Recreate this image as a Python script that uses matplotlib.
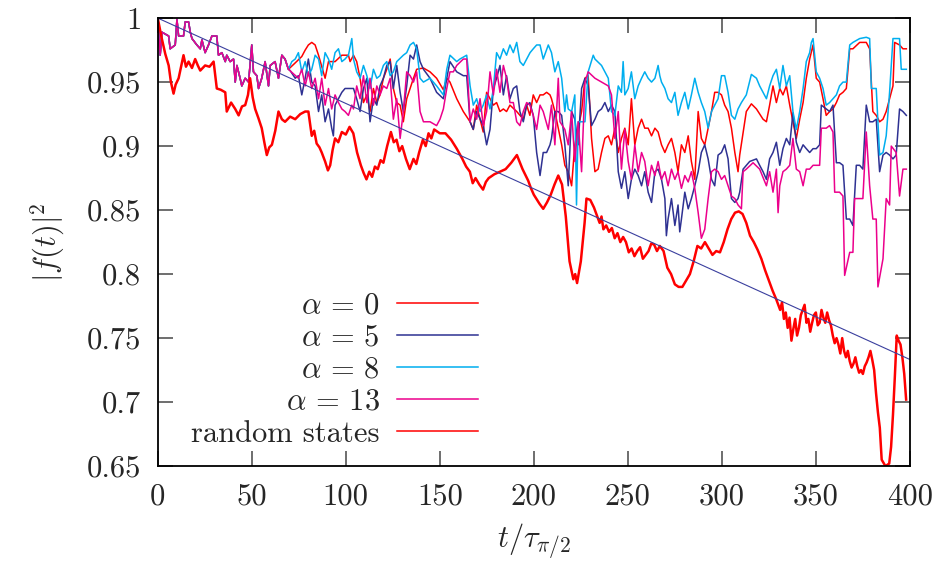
import numpy as np
import matplotlib
matplotlib.use('Agg')
import matplotlib.pyplot as plt

plt.rcParams['font.family'] = 'cmr10'
plt.rcParams['mathtext.fontset'] = 'cm'
plt.rcParams['axes.unicode_minus'] = False
plt.rcParams['axes.formatter.use_mathtext'] = True
plt.rcParams['text.color'] = '#262626'
plt.rcParams['xtick.labelcolor'] = '#262626'
plt.rcParams['ytick.labelcolor'] = '#262626'
plt.rcParams['axes.labelcolor'] = '#262626'

# (t, |f|^2)

# start shared by all alpha curves
common = [(0, 1.0), (1.3, 0.971), (2.2, 0.989), (5.8, 0.986), (6.6, 0.976), (9.3, 0.979),
          (10.2, 0.999), (11.1, 0.986), (13.7, 0.986), (14.6, 0.997), (16.4, 0.997),
          (17.3, 0.989), (18.2, 0.984), (20.8, 0.979), (22.6, 0.976), (23.5, 0.983),
          (25.2, 0.973), (27.0, 0.979), (28.8, 0.986), (31.4, 0.986), (32.3, 0.971),
          (34.1, 0.973), (35.9, 0.966), (36.7, 0.971), (38.5, 0.966), (40.3, 0.968),
          (41.2, 0.950), (42.1, 0.963), (43.8, 0.953), (44.7, 0.947), (46.5, 0.953),
          (48.3, 0.950), (50.0, 0.979), (50.9, 0.958), (52.7, 0.955), (53.6, 0.945),
          (55.3, 0.953), (57.1, 0.966), (58.9, 0.947), (59.8, 0.963), (62.4, 0.966),
          (64.2, 0.953), (66.0, 0.971), (67.7, 0.968), (69.5, 0.960)]

alpha0 = [(73.1, 0.965), (76.6, 0.970), (78.4, 0.975), (80.1, 0.979), (81.9, 0.981), (83.7, 0.979),
          (85.5, 0.971), (89.0, 0.953), (90.8, 0.966), (94.3, 0.966), (97.9, 0.971), (101.4, 0.971),
          (102.3, 0.966), (104.1, 0.971), (105.8, 0.966), (107.6, 0.953), (109.4, 0.934),
          (111.2, 0.940), (112.9, 0.927), (114.7, 0.945), (116.5, 0.934), (118.2, 0.940),
          (120.0, 0.953), (121.8, 0.960), (123.6, 0.968), (125.3, 0.945), (127.1, 0.934),
          (128.9, 0.932), (130.6, 0.919), (132.4, 0.937), (134.2, 0.945), (136.0, 0.953),
          (137.7, 0.960), (141.3, 0.961), (144.8, 0.958), (148.3, 0.953), (151.9, 0.944),
          (153.7, 0.953), (155.4, 0.950), (159.0, 0.937), (162.5, 0.927), (164.3, 0.923),
          (166.1, 0.919), (167.8, 0.913), (169.6, 0.932), (171.4, 0.921), (173.1, 0.911),
          (174.9, 0.942), (176.7, 0.937), (178.5, 0.932), (180.2, 0.934), (182.0, 0.927),
          (183.8, 0.929), (185.5, 0.927), (187.3, 0.932), (190.9, 0.927), (194.4, 0.921),
          (196.2, 0.932), (197.9, 0.924), (199.7, 0.940), (201.5, 0.934), (203.3, 0.940),
          (205.0, 0.940), (206.8, 0.942), (208.6, 0.940), (209.4, 0.937), (211.2, 0.927),
          (213.0, 0.914), (214.8, 0.901), (216.5, 0.885), (218.3, 0.880), (220.1, 0.869),
          (221.8, 0.901), (223.6, 0.914), (225.4, 0.927), (227.2, 0.953), (228.9, 0.955),
          (230.7, 0.906), (232.5, 0.880), (234.2, 0.882), (236.0, 0.895), (237.8, 0.906),
          (239.6, 0.908), (241.3, 0.901), (243.1, 0.914), (244.9, 0.895), (246.6, 0.906),
          (248.4, 0.914), (250.2, 0.901), (251.9, 0.937), (253.7, 0.901), (255.5, 0.914),
          (257.3, 0.921), (259.0, 0.914), (260.8, 0.914), (262.6, 0.908), (264.4, 0.914),
          (266.1, 0.911), (267.9, 0.901), (269.7, 0.895), (271.4, 0.901), (273.2, 0.906),
          (275.0, 0.895), (276.7, 0.880), (278.5, 0.901), (280.3, 0.895), (282.1, 0.908),
          (283.8, 0.888), (285.6, 0.874), (287.4, 0.927), (289.1, 0.906), (290.9, 0.901),
          (292.7, 0.914), (294.5, 0.927), (296.2, 0.942), (298.0, 0.942), (299.8, 0.940),
          (301.5, 0.932), (303.3, 0.927), (305.1, 0.914), (306.9, 0.895), (308.6, 0.880),
          (309.5, 0.893), (313.0, 0.927), (315.7, 0.933), (318.4, 0.929), (321.9, 0.921),
          (323.7, 0.919), (325.4, 0.932), (327.2, 0.947), (329.0, 0.934), (330.8, 0.945),
          (332.5, 0.940), (334.3, 0.947), (336.1, 0.932), (337.8, 0.919), (339.6, 0.906),
          (341.4, 0.921), (343.2, 0.934), (344.9, 0.953), (346.7, 0.968), (348.5, 0.979),
          (350.2, 0.953), (352.0, 0.950), (353.8, 0.937), (355.5, 0.924), (357.3, 0.927),
          (359.1, 0.929), (360.9, 0.934), (362.6, 0.940), (364.4, 0.942), (366.2, 0.945),
          (368.0, 0.976), (369.7, 0.976), (373.3, 0.981), (376.8, 0.981), (378.6, 0.976),
          (380.3, 0.927), (382.1, 0.924), (383.9, 0.919), (385.7, 0.921), (387.4, 0.927),
          (389.2, 0.937), (391.0, 0.947), (391.9, 0.981), (394.5, 0.979), (396.3, 0.976),
          (398.1, 0.976)]

alpha5 = [(70.4, 0.959), (73.1, 0.953), (74.8, 0.955), (76.6, 0.940), (78.4, 0.953), (80.1, 0.968),
          (81.9, 0.950), (83.7, 0.947), (85.5, 0.927), (87.2, 0.940), (89.0, 0.919), (90.8, 0.929),
          (92.5, 0.914), (93.4, 0.908), (94.3, 0.932), (96.1, 0.937), (97.9, 0.942), (99.6, 0.945),
          (102.3, 0.945), (104.1, 0.945), (105.8, 0.937), (107.6, 0.927), (109.4, 0.945),
          (111.2, 0.953), (112.9, 0.919), (114.7, 0.937), (116.5, 0.932), (118.2, 0.947),
          (120.0, 0.953), (121.8, 0.963), (123.6, 0.966), (125.3, 0.945), (127.1, 0.963),
          (128.9, 0.942), (130.6, 0.927), (132.4, 0.947), (134.2, 0.971), (136.0, 0.968),
          (137.7, 0.979), (139.5, 0.966), (141.3, 0.960), (144.8, 0.953), (148.3, 0.942),
          (151.9, 0.937), (153.7, 0.953), (155.4, 0.966), (159.0, 0.958), (162.5, 0.955),
          (164.3, 0.955), (166.1, 0.919), (167.8, 0.913), (169.6, 0.927), (173.1, 0.916),
          (174.9, 0.901), (176.7, 0.913), (178.5, 0.945), (180.2, 0.953), (182.0, 0.963),
          (183.8, 0.940), (185.5, 0.955), (187.3, 0.937), (189.1, 0.945), (190.9, 0.947),
          (192.6, 0.927), (194.4, 0.919), (196.2, 0.932), (197.9, 0.934), (199.7, 0.924),
          (201.5, 0.895), (203.3, 0.877), (205.0, 0.895), (206.8, 0.895), (208.6, 0.901),
          (209.4, 0.906), (211.2, 0.927), (213.0, 0.927), (214.8, 0.924), (216.5, 0.901),
          (218.3, 0.869), (220.1, 0.927), (221.8, 0.921), (223.6, 0.901), (225.4, 0.945),
          (227.2, 0.953), (228.9, 0.947), (230.7, 0.916), (232.5, 0.921), (234.2, 0.927),
          (236.0, 0.929), (237.8, 0.934), (239.6, 0.927), (241.3, 0.932), (243.1, 0.927),
          (244.9, 0.880), (246.6, 0.867), (248.4, 0.880), (250.2, 0.859), (251.9, 0.874),
          (253.7, 0.882), (255.5, 0.877), (257.3, 0.869), (259.0, 0.880), (260.8, 0.864),
          (262.6, 0.856), (264.4, 0.880), (266.1, 0.882), (267.9, 0.874), (269.7, 0.859),
          (270.5, 0.830), (271.4, 0.843), (273.2, 0.859), (275.0, 0.838), (276.7, 0.854),
          (277.6, 0.833), (278.5, 0.843), (280.3, 0.864), (282.1, 0.851), (283.8, 0.859),
          (285.6, 0.869), (287.4, 0.880), (289.1, 0.895), (290.9, 0.901), (292.7, 0.890),
          (294.5, 0.874), (296.2, 0.869), (298.0, 0.893), (299.8, 0.895), (301.5, 0.901),
          (303.3, 0.890), (305.1, 0.859), (306.9, 0.856), (308.6, 0.859), (309.5, 0.864),
          (311.3, 0.882), (314.8, 0.888), (318.4, 0.890), (320.1, 0.885), (321.9, 0.880),
          (323.7, 0.874), (325.4, 0.890), (327.2, 0.895), (329.0, 0.903), (330.8, 0.885),
          (332.5, 0.898), (334.3, 0.906), (336.1, 0.901), (337.8, 0.926), (339.6, 0.903),
          (341.4, 0.895), (343.2, 0.901), (344.9, 0.898), (346.7, 0.895), (348.5, 0.898),
          (350.2, 0.898), (352.0, 0.901), (352.9, 0.932), (355.5, 0.929), (357.3, 0.927),
          (359.1, 0.932), (360.9, 0.887), (362.6, 0.887), (364.4, 0.885), (366.2, 0.843),
          (368.0, 0.843), (369.7, 0.838), (371.5, 0.885), (373.3, 0.885), (375.0, 0.882),
          (376.8, 0.932), (378.6, 0.919), (380.3, 0.919), (382.1, 0.921), (383.9, 0.880),
          (385.7, 0.893), (387.4, 0.895), (389.2, 0.893), (391.0, 0.890), (392.7, 0.893),
          (394.5, 0.929), (396.3, 0.927), (398.1, 0.924)]

alpha8 = [(71.3, 0.966), (73.1, 0.968), (74.8, 0.973), (76.6, 0.958), (78.4, 0.966), (80.1, 0.955),
          (81.9, 0.960), (83.7, 0.971), (85.5, 0.968), (87.2, 0.955), (89.0, 0.973), (90.8, 0.968),
          (92.5, 0.960), (94.3, 0.973), (96.1, 0.976), (97.9, 0.966), (99.6, 0.968), (101.4, 0.971),
          (103.2, 0.984), (104.1, 0.968), (105.8, 0.958), (107.6, 0.953), (109.4, 0.963),
          (111.2, 0.955), (112.9, 0.945), (114.7, 0.960), (116.5, 0.953), (118.2, 0.955),
          (120.0, 0.963), (121.8, 0.966), (123.6, 0.955), (125.3, 0.958), (127.1, 0.966),
          (130.6, 0.971), (132.4, 0.973), (134.2, 0.979), (136.0, 0.981), (137.7, 0.976),
          (139.5, 0.953), (141.3, 0.950), (144.8, 0.953), (148.3, 0.947), (151.9, 0.940),
          (153.7, 0.960), (155.4, 0.971), (159.0, 0.966), (160.7, 0.968), (164.3, 0.971),
          (166.1, 0.947), (167.8, 0.932), (169.6, 0.937), (171.4, 0.927), (173.1, 0.932),
          (174.9, 0.940), (176.7, 0.929), (178.5, 0.945), (180.2, 0.973), (182.0, 0.968),
          (183.8, 0.976), (185.5, 0.971), (187.3, 0.979), (189.1, 0.973), (190.9, 0.981),
          (192.6, 0.966), (194.4, 0.963), (196.2, 0.968), (198.0, 0.973), (199.7, 0.976),
          (201.5, 0.979), (203.3, 0.979), (205.0, 0.968), (207.7, 0.979), (209.4, 0.973),
          (211.2, 0.958), (213.0, 0.966), (214.8, 0.953), (216.5, 0.927), (217.4, 0.940),
          (218.3, 0.929), (220.1, 0.927), (221.8, 0.940), (222.7, 0.854), (223.6, 0.919),
          (227.2, 0.919), (228.9, 0.958), (231.6, 0.971), (232.5, 0.968), (236.0, 0.963),
          (237.8, 0.958), (239.6, 0.953), (241.3, 0.927), (243.1, 0.924), (244.9, 0.947),
          (246.6, 0.942), (247.5, 0.966), (248.4, 0.940), (250.2, 0.945), (251.9, 0.958),
          (253.7, 0.937), (255.5, 0.947), (257.3, 0.953), (259.0, 0.958), (260.8, 0.953),
          (262.6, 0.950), (264.4, 0.953), (266.1, 0.963), (267.0, 0.955), (267.9, 0.950),
          (269.7, 0.945), (271.4, 0.937), (273.2, 0.934), (275.0, 0.942), (276.7, 0.924),
          (278.5, 0.934), (280.3, 0.942), (282.1, 0.929), (283.8, 0.940), (285.6, 0.953),
          (287.4, 0.942), (289.1, 0.934), (290.9, 0.927), (292.7, 0.914), (294.5, 0.927),
          (296.2, 0.932), (298.0, 0.937), (299.8, 0.955), (301.5, 0.955), (303.3, 0.942),
          (305.1, 0.924), (306.9, 0.921), (308.6, 0.929), (310.4, 0.934), (313.0, 0.940),
          (315.7, 0.956), (318.4, 0.953), (320.1, 0.947), (321.9, 0.942), (323.7, 0.937),
          (325.4, 0.947), (327.2, 0.955), (329.0, 0.960), (330.8, 0.945), (332.5, 0.963),
          (334.3, 0.947), (336.1, 0.955), (337.8, 0.927), (339.6, 0.913), (341.4, 0.927),
          (343.2, 0.945), (344.9, 0.966), (346.7, 0.973), (347.6, 0.981), (348.5, 0.984),
          (350.2, 0.958), (352.0, 0.953), (353.8, 0.945), (355.5, 0.932), (357.3, 0.934),
          (359.1, 0.937), (360.9, 0.940), (362.6, 0.947), (364.4, 0.950), (366.2, 0.950),
          (368.0, 0.979), (369.7, 0.981), (373.3, 0.984), (376.8, 0.985), (378.6, 0.984),
          (379.5, 0.945), (382.1, 0.945), (383.9, 0.893), (385.7, 0.895), (387.4, 0.908),
          (389.2, 0.942), (391.0, 0.984), (392.7, 0.984), (394.5, 0.984), (395.4, 0.960),
          (398.1, 0.960)]

alpha13 = [(74.8, 0.953), (76.6, 0.960), (78.4, 0.947), (80.1, 0.958), (81.9, 0.945), (83.7, 0.953),
           (85.5, 0.937), (87.2, 0.953), (89.0, 0.932), (90.8, 0.945), (92.5, 0.929), (94.3, 0.940),
           (96.1, 0.934), (97.9, 0.929), (99.6, 0.927), (101.4, 0.924), (103.2, 0.932),
           (104.1, 0.929), (105.8, 0.947), (107.6, 0.937), (109.4, 0.955), (111.2, 0.934),
           (112.9, 0.953), (114.7, 0.932), (116.5, 0.947), (118.2, 0.940), (120.0, 0.947),
           (121.8, 0.945), (123.6, 0.953), (125.3, 0.921), (127.1, 0.937), (128.9, 0.906),
           (130.6, 0.927), (132.4, 0.958), (134.2, 0.955), (136.0, 0.950), (137.7, 0.958),
           (139.5, 0.927), (141.3, 0.919), (144.8, 0.919), (148.3, 0.916), (150.1, 0.921),
           (151.9, 0.929), (153.7, 0.945), (155.4, 0.958), (157.2, 0.958), (159.0, 0.963),
           (162.5, 0.968), (164.3, 0.968), (166.1, 0.919), (167.8, 0.929), (169.6, 0.921),
           (171.4, 0.937), (173.1, 0.916), (174.9, 0.927), (176.7, 0.958), (178.5, 0.940),
           (180.2, 0.960), (182.0, 0.942), (183.8, 0.963), (185.5, 0.953), (187.3, 0.934),
           (189.1, 0.934), (190.9, 0.919), (192.6, 0.916), (194.4, 0.927), (196.2, 0.934),
           (197.9, 0.932), (199.7, 0.924), (201.5, 0.913), (203.3, 0.932), (205.0, 0.927),
           (207.7, 0.913), (209.4, 0.932), (211.2, 0.901), (213.0, 0.953), (213.9, 0.919),
           (216.5, 0.913), (218.3, 0.901), (220.1, 0.927), (221.8, 0.888), (223.6, 0.919),
           (225.4, 0.880), (227.2, 0.950), (228.9, 0.958), (232.5, 0.953), (236.0, 0.950),
           (239.6, 0.947), (241.3, 0.940), (243.1, 0.906), (244.9, 0.927), (246.6, 0.882),
           (248.4, 0.913), (250.2, 0.888), (251.9, 0.874), (253.7, 0.901), (255.5, 0.880),
           (257.3, 0.895), (259.0, 0.888), (260.8, 0.869), (262.6, 0.885), (264.4, 0.877),
           (266.1, 0.888), (267.9, 0.874), (269.7, 0.880), (271.4, 0.869), (273.2, 0.882),
           (275.0, 0.874), (276.7, 0.880), (278.5, 0.867), (280.3, 0.877), (282.1, 0.872),
           (283.8, 0.880), (285.6, 0.867), (287.4, 0.848), (289.1, 0.828), (290.9, 0.835),
           (292.7, 0.859), (294.5, 0.880), (296.2, 0.882), (298.0, 0.880), (299.8, 0.874),
           (301.5, 0.877), (303.3, 0.869), (305.1, 0.861), (306.9, 0.859), (308.6, 0.854),
           (310.4, 0.851), (311.3, 0.880), (313.0, 0.882), (316.6, 0.887), (320.1, 0.882),
           (323.7, 0.869), (325.4, 0.880), (327.2, 0.864), (329.0, 0.882), (329.9, 0.848),
           (330.8, 0.869), (332.5, 0.880), (334.3, 0.882), (336.1, 0.885), (337.8, 0.906),
           (339.6, 0.882), (341.4, 0.880), (343.2, 0.869), (344.9, 0.882), (346.7, 0.882),
           (348.5, 0.885), (350.2, 0.885), (352.0, 0.885), (352.9, 0.914), (355.5, 0.914),
           (357.3, 0.916), (359.1, 0.911), (360.0, 0.864), (362.6, 0.864), (364.4, 0.861),
           (365.3, 0.799), (368.0, 0.817), (369.7, 0.817), (370.6, 0.859), (373.3, 0.859),
           (375.0, 0.859), (376.8, 0.911), (378.6, 0.869), (380.3, 0.843), (382.1, 0.843),
           (383.0, 0.790), (385.7, 0.812), (387.4, 0.859), (389.2, 0.854), (390.1, 0.900),
           (392.7, 0.895), (394.5, 0.861), (396.3, 0.882), (398.1, 0.882)]

random_states = [(0, 1.0), (2, 0.985), (4, 0.972), (5.8, 0.963), (7, 0.950), (8.4, 0.941),
                 (9.5, 0.948), (11.1, 0.953), (12.4, 0.962), (13.7, 0.971), (15.0, 0.962),
                 (16.4, 0.966), (18.2, 0.961), (19.9, 0.968), (21.3, 0.963), (22.6, 0.959),
                 (25.2, 0.963), (27.5, 0.962), (29.7, 0.966), (31.4, 0.945), (33.5, 0.944),
                 (35.9, 0.942), (36.7, 0.927), (39.0, 0.934), (41.2, 0.929), (43.0, 0.924),
                 (44.8, 0.931), (46.5, 0.932), (48.0, 0.940), (49.1, 0.953), (50.5, 0.938),
                 (51.8, 0.929), (53.5, 0.922), (55.3, 0.914), (56.8, 0.902), (58.0, 0.893),
                 (59.3, 0.899), (60.7, 0.901), (62.5, 0.912), (64.2, 0.927), (66.0, 0.921),
                 (67.7, 0.919), (70.4, 0.923), (73.1, 0.921), (75.8, 0.925), (78.4, 0.927),
                 (80.1, 0.927), (81.9, 0.908), (83.2, 0.912), (84.5, 0.902), (86.0, 0.899),
                 (87.2, 0.895), (89.0, 0.888), (90.5, 0.881), (91.7, 0.885), (93.0, 0.897),
                 (94.3, 0.906), (96.0, 0.903), (97.9, 0.911), (100, 0.909), (102, 0.915),
                 (104, 0.910), (106, 0.895), (108, 0.885), (109.5, 0.879), (111, 0.874),
                 (112.5, 0.880), (114, 0.876), (115.5, 0.884), (117, 0.882), (118.5, 0.889),
                 (120, 0.887), (122, 0.900), (124, 0.911), (125.5, 0.903), (127, 0.905),
                 (128.5, 0.896), (130, 0.900), (132, 0.890), (134, 0.882), (136, 0.890),
                 (137.5, 0.886), (139, 0.895), (141, 0.905), (142.5, 0.900), (144, 0.910),
                 (145.5, 0.906), (147, 0.913), (150, 0.910), (153, 0.910), (156, 0.905),
                 (159, 0.898), (162, 0.890), (164, 0.884), (166, 0.880), (167.5, 0.871),
                 (169, 0.875), (171, 0.870), (173, 0.866), (174.5, 0.872), (176, 0.875),
                 (179, 0.878), (182, 0.880), (185, 0.882), (188, 0.887), (191, 0.893),
                 (194, 0.882), (197, 0.873), (198.5, 0.867), (200, 0.862), (203, 0.855),
                 (205, 0.851), (207, 0.856), (209, 0.862), (211, 0.870), (213, 0.877),
                 (215, 0.870), (217, 0.845), (219, 0.810), (221, 0.796), (222, 0.800),
                 (223, 0.793), (225, 0.810), (227, 0.840), (228, 0.859), (230, 0.858),
                 (232, 0.852), (233.5, 0.846), (235, 0.840), (236, 0.845), (237, 0.835),
                 (238.5, 0.838), (240, 0.833), (241.5, 0.836), (243, 0.828), (244.5, 0.832),
                 (246, 0.825), (247.5, 0.829), (249, 0.825), (250.5, 0.817), (252, 0.820),
                 (253.5, 0.814), (255, 0.818), (256.5, 0.821), (258, 0.812), (259.5, 0.815),
                 (261, 0.818), (262.5, 0.824), (264, 0.823), (265.5, 0.818), (267, 0.822),
                 (269, 0.818), (271, 0.805), (273, 0.800), (275, 0.792), (277, 0.790),
                 (279, 0.790), (281, 0.795), (283, 0.800), (285, 0.810), (287, 0.822),
                 (289, 0.820), (291, 0.825), (293, 0.820), (295, 0.815), (297, 0.818),
                 (299, 0.817), (301, 0.825), (303, 0.835), (305, 0.843), (307, 0.848),
                 (309, 0.849), (311, 0.847), (313, 0.840), (315, 0.830), (317, 0.825),
                 (319, 0.819), (321, 0.812), (323, 0.803), (325, 0.795), (327, 0.787),
                 (329, 0.780), (331, 0.772), (332, 0.778), (333, 0.765), (334, 0.770),
                 (335, 0.758), (336, 0.766), (337, 0.748), (338, 0.757), (339, 0.765),
                 (340, 0.752), (341, 0.758), (342, 0.768), (343, 0.772), (344, 0.776),
                 (345, 0.762), (346, 0.765), (347, 0.755), (348, 0.762), (349, 0.768),
                 (350, 0.770), (351, 0.760), (352, 0.762), (353, 0.772), (354, 0.766),
                 (355, 0.762), (356, 0.770), (357, 0.764), (358, 0.760), (359, 0.752),
                 (360, 0.746), (361, 0.750), (362, 0.745), (363, 0.738), (364, 0.750),
                 (365, 0.740), (366, 0.735), (367, 0.740), (368, 0.732), (369, 0.727),
                 (370, 0.730), (371, 0.735), (372, 0.728), (373, 0.723), (374, 0.725),
                 (375, 0.722), (376, 0.728), (377, 0.731), (378, 0.735), (379, 0.740),
                 (380, 0.733), (381, 0.725), (382, 0.707), (383, 0.692), (384, 0.680),
                 (385, 0.655), (387, 0.650), (389, 0.652), (390, 0.665), (391, 0.690),
                 (392, 0.720), (393, 0.752), (394, 0.748), (395, 0.745), (396, 0.735),
                 (397, 0.722), (398, 0.702)]

# straight decay line (not in key)
decay_line = [(0, 1.0), (400, 0.7333)]

yticks = [0.65, 0.7, 0.75, 0.8, 0.85, 0.9, 0.95, 1]
ytick_labels = ['0.65', '0.7', '0.75', '0.8', '0.85', '0.9', '0.95', '1']
xticks = [0, 50, 100, 150, 200, 250, 300, 350, 400]


def xy(pts):
    a = np.array(pts, dtype=float)
    return a[:, 0], a[:, 1]


fig = plt.figure(figsize=(9.39, 5.65), dpi=100)
ax = fig.add_axes([0.168, 0.175, 0.801, 0.793])

series = [(common + alpha0, '#ff0000', r'$\alpha\,=\,0$'),
          (common + alpha5, '#2e3192', r'$\alpha\,=\,5$'),
          (common + alpha8, '#00aeef', r'$\alpha\,=\,8$'),
          (common + alpha13, '#ec008c', r'$\alpha\,=\,13$')]
for pts, c, lab in series:
    t, f = xy(pts)
    ax.plot(t, f, color=c, lw=1.1, label=lab)

t, f = xy(random_states)
ax.plot(t, f, color='#ff0000', lw=1.8, label='random states')
t, f = xy(decay_line)
ax.plot(t, f, color='#3a3f9e', lw=0.8)

ax.set_xlim(0, 400)
ax.set_ylim(0.65, 1)
ax.set_xticks(xticks)
ax.set_xticklabels([str(x) for x in xticks])
ax.set_yticks(yticks)
ax.set_yticklabels(ytick_labels)
ax.tick_params(direction='in', length=11, width=1.2, color='#555555', labelsize=22,
               top=True, right=True, pad=12)
for s in ax.spines.values():
    s.set_linewidth(1.3)

ax.set_xlabel(r'$t/\tau_{\pi/2}$', fontsize=22, labelpad=8)
ax.set_ylabel(r'$|f(t)|^2$', fontsize=22, labelpad=14)

leg = ax.legend(loc='center', bbox_to_anchor=(0.235, 0.214), frameon=False, fontsize=22,
                markerfirst=False, handlelength=2.65, handletextpad=0.55, labelspacing=0.15,
                borderpad=0)
for h in leg.legend_handles:
    h.set_linewidth(1.1)

fig.savefig('out.png', dpi=100)
